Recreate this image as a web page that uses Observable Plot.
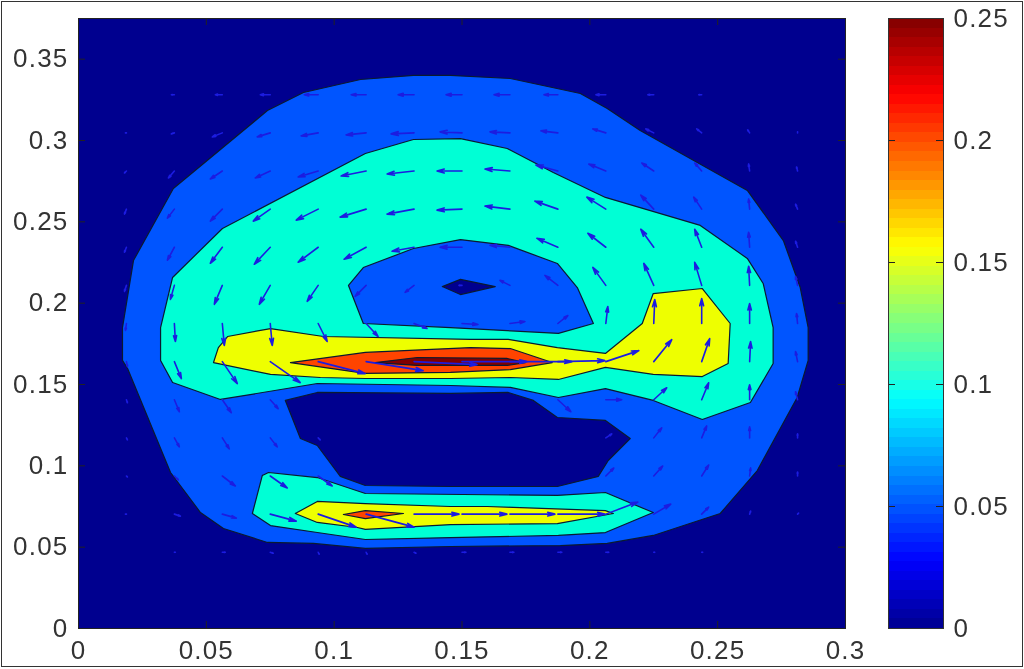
<!DOCTYPE html>
<html><head><meta charset="utf-8">
<script src="https://cdn.jsdelivr.net/npm/d3@7"></script>
<script src="https://cdn.jsdelivr.net/npm/@observablehq/plot@0.6"></script>
<style>
html,body{margin:0;padding:0;background:#fff;width:1024px;height:669px;overflow:hidden}
#page{position:relative;width:1024px;height:669px}
#page svg{position:absolute;top:0;left:0;background:transparent;filter:blur(0.5px)}
#page svg text{letter-spacing:1.2px}
#border{position:absolute;left:1px;top:1px;width:1020px;height:664px;border:1.5px solid #333;pointer-events:none}
</style></head><body>
<div id="page"><div id="border"></div></div>
<script>
const xTicks=[0,0.05,0.1,0.15,0.2,0.25,0.3];
const yTicks=[0,0.05,0.1,0.15,0.2,0.25,0.3,0.35];
const barTicks=[0,0.05,0.1,0.15,0.2,0.25];

const outerBand=[[.0172,.1850],[.0215,.2262],[.0371,.2705],[.0739,.3184],[.0880,.3295],[.1103,.3375],[.1310,.3400],[.1455,.3400],[.1689,.3381],[.1963,.3289],[.2068,.3197],[.2197,.3061],[.2616,.2693],[.2757,.2385],[.2823,.2096],[.2854,.1850],[.2854,.1648],[.2811,.1420],[.2655,.0971],[.2510,.0707],[.2248,.0572],[.2068,.0523],[.1885,.0510],[.1455,.0504],[.1122,.0492],[.0919,.0523],[.0739,.0529],[.0567,.0615],[.0477,.0713],[.0360,.0959],[.0192,.1598],[.0172,.1648]];
const lowerHole=[[.0809,.1402],[.0934,.1451],[.1455,.1445],[.1681,.1451],[.1779,.1402],[.1873,.1297],[.2061,.1279],[.2158,.1168],[.2072,.1033],[.2033,.0935],[.1873,.0873],[.1455,.0873],[.1122,.0879],[.1024,.0935],[.0934,.1125],[.0868,.1168]];
const upperCyan=[[.0321,.1850],[.0368,.2158],[.0563,.2459],[.1122,.2920],[.1310,.3006],[.1494,.3012],[.1677,.2951],[.1857,.2803],[.2061,.2650],[.2432,.2478],[.2616,.2275],[.2678,.2121],[.2717,.1850],[.2717,.1629],[.2628,.1389],[.2440,.1285],[.2248,.1402],[.2061,.1475],[.1877,.1420],[.1689,.1482],[.1455,.1494],[.0934,.1506],[.0555,.1408],[.0368,.1512],[.0321,.1648]];
const upperHole=[[.1056,.2109],[.1114,.2219],[.1310,.2336],[.1494,.2391],[.1681,.2355],[.1873,.2244],[.1951,.2096],[.2014,.1875],[.1877,.1814],[.1455,.1850],[.1114,.1875]];
const diamond=[[.1423,.2102],[.1494,.2146],[.1630,.2102],[.1494,.2053]];
const lowerCyan=[[.0719,.0941],[.0743,.0959],[.0934,.0928],[.1122,.0830],[.1873,.0818],[.2061,.0836],[.2248,.0713],[.2061,.0590],[.1877,.0572],[.1455,.0559],[.1122,.0547],[.0934,.0590],[.0751,.0633],[.0680,.0707]];
const lowerYellow=[[.0848,.0707],[.0934,.0781],[.1122,.0768],[.1455,.0750],[.1599,.0750],[.2061,.0725],[.2092,.0707],[.1873,.0645],[.1455,.0639],[.1122,.0609],[.1091,.0621],[.0934,.0652]];
const lowerRed=[[.1036,.0701],[.1122,.0725],[.1271,.0707],[.1122,.0676]];
const upperYellow=[[.0528,.1635],[.0547,.1727],[.0583,.1795],[.0751,.1844],[.0958,.1795],[.1533,.1777],[.1681,.1777],[.1873,.1727],[.2061,.1691],[.2205,.1875],[.2248,.2059],[.2440,.2090],[.2549,.1875],[.2541,.1629],[.2440,.1549],[.2248,.1562],[.2061,.1605],[.1877,.1531],[.1689,.1543],[.1455,.1537],[.1122,.1537],[.0946,.1543],[.0751,.1562]];
const upperRed=[[.0829,.1635],[.1122,.1697],[.1533,.1727],[.1689,.1721],[.1853,.1635],[.1689,.1592],[.1455,.1574],[.1122,.1568]];
const upperDark=[[.1161,.1635],[.1325,.1666],[.1677,.1660],[.1748,.1635],[.1677,.1617],[.1325,.1617]];

const gridX=[.01875,.0375,.05625,.075,.09375,.1125,.13125,.15,.16875,.1875,.20625,.225,.24375,.2625,.28125];
const gridY=[.328125,.3046875,.28125,.2578125,.234375,.2109375,.1875,.1640625,.140625,.1171875,.09375,.0703125,.046875];
const flowU=[
[0,-3,-7,-10,-14,-15,-16,-16,-16,-14,-10,-6,-3,0,0],
[-1,-3,-10,-13,-17,-20,-23,-22,-20,-17,-13,-8,-5,-2,0],
[-2,-6,-12,-15,-20,-25,-27,-25,-25,-22,-17,-12,-7,-1,-1],
[-2,-7,-12,-17,-22,-26,-27,-25,-25,-23,-19,-13,-8,-1,-2],
[-2,-7,-12,-16,-20,-22,-22,-22,-20,-21,-18,-13,-7,-1,-2],
[-2,-4,-8,-11,-11,-11,-9,-3,-10,-13,-13,-10,-7,-1,-2],
[-1,1,2,2,9,12,13,16,15,10,2,1,0,0,-1],
[1,7,15,30,47,57,63,65,62,47,33,18,8,1,-2],
[1,5,9,8,0,0,0,0,0,13,16,13,7,0,-2],
[1,5,7,7,2,0,0,0,0,0,6,8,5,0,0],
[1,4,13,17,14,0,0,0,0,0,8,9,7,1,0],
[-1,6,14,26,38,48,45,45,45,47,32,17,7,1,1],
[0,1,3,3,1,1,2,4,4,4,3,1,1,0,0]];
const flowV=[
[0,0,0,0,0,0,0,0,0,0,0,0,0,0,0],
[0,-1,-4,-4,-3,-2,-1,1,1,2,4,4,4,3,1],
[-2,-7,-8,-7,-6,-5,-3,0,2,6,7,8,8,7,4],
[-5,-9,-12,-12,-11,-8,-5,-1,3,8,12,14,12,10,5],
[-5,-13,-16,-17,-15,-12,-4,0,2,9,14,18,18,15,6],
[-6,-14,-19,-19,-16,-11,-7,0,5,10,18,22,23,19,9],
[-7,-18,-22,-22,-18,-13,-5,-1,2,8,17,24,25,20,10],
[-5,-17,-22,-21,-12,-9,-3,0,0,1,11,22,23,20,10],
[-3,-12,-13,-9,0,0,0,0,0,-12,0,12,17,15,8],
[-2,-9,-11,-9,-2,0,0,0,0,0,4,10,12,11,4],
[-1,-4,-10,-12,-10,0,0,0,0,0,8,10,11,8,4],
[0,-2,-4,-7,-13,-13,0,0,0,0,12,10,7,3,1],
[0,0,0,-1,-2,-2,-1,0,0,0,0,0,0,0,0]];
const quiverScaleX=0.000391, quiverScaleY=0.000615;

const bandColors={low:"#00008f",blue:"#0055ff",cyan:"#00ffd5",yellow:"#eeff00",red:"#ff4400",dark:"#800000"};
const jetStops=[0,0.0275,0.09375,0.15625,0.21875,0.25];
const jetColors=["#00008f","#0000ff","#00ffff","#ffff00","#ff0000","#800000"];
const barLevels=d3.range(64);

const arrows=gridY.flatMap((y,r)=>gridX.map((x,c)=>({x,y,u:flowU[r][c],v:flowV[r][c]}))).filter(d=>d.u||d.v);
const fontFamily="'Liberation Sans',Arial,sans-serif";
const plotH=610, tickLen=7, mainW=767, barW=55;

function band(points,fill){
  return Plot.line([...points,points[0]],{x:d=>d[0],y:d=>d[1],fill,stroke:"#0a1a30",strokeWidth:1.2,curve:"linear"});
}
function ticks(xs,ys,w){
  const s={stroke:"#222",strokeWidth:1};
  return [
    xs?Plot.tickX(xs,{x:d=>d,insetTop:plotH-tickLen,...s}):null,
    xs?Plot.tickX(xs,{x:d=>d,insetBottom:plotH-tickLen,...s}):null,
    Plot.tickY(ys,{y:d=>d,insetRight:w-tickLen,...s}),
    Plot.tickY(ys,{y:d=>d,insetLeft:w-tickLen,...s})
  ];
}

const main=Plot.plot({
  width:1024,height:669,marginLeft:78,marginRight:179,marginTop:18,marginBottom:41,
  style:{fontFamily,background:"transparent"},
  x:{domain:[0,0.3],axis:null},y:{domain:[0,0.375],axis:null},
  marks:[
    Plot.rect([0],{x1:0,x2:0.3,y1:0,y2:0.375,fill:bandColors.low}),
    band(outerBand,bandColors.blue),
    band(lowerHole,bandColors.low),
    band(upperCyan,bandColors.cyan),
    band(upperHole,bandColors.blue),
    band(diamond,bandColors.low),
    band(lowerCyan,bandColors.cyan),
    band(lowerYellow,bandColors.yellow),
    band(lowerRed,bandColors.red),
    band(upperYellow,bandColors.yellow),
    band(upperRed,bandColors.red),
    band(upperDark,bandColors.dark),
    Plot.arrow(arrows,{x1:"x",y1:"y",x2:d=>d.x+d.u*quiverScaleX,y2:d=>d.y+d.v*quiverScaleY,stroke:"#1c1ce0",strokeWidth:1.6,headLength:7,headAngle:30}),
    ...ticks(xTicks,yTicks,mainW),
    Plot.text(xTicks,{x:d=>d,frameAnchor:"bottom",dy:30,lineAnchor:"bottom",text:d=>String(d),fontSize:26,fill:"#333"}),
    Plot.text(yTicks,{y:d=>d,frameAnchor:"left",dx:-10,textAnchor:"end",text:d=>String(d),fontSize:26,fill:"#333"}),
    Plot.frame({stroke:"#222",strokeWidth:1})
  ]
});
const bar=Plot.plot({
  width:1024,height:669,marginLeft:888,marginRight:81,marginTop:18,marginBottom:41,
  style:{fontFamily,background:"transparent"},
  x:{domain:[0,1],axis:null},y:{domain:[0,0.25],axis:null},
  color:{type:"linear",domain:jetStops,range:jetColors,interpolate:"rgb"},
  marks:[
    Plot.rect(barLevels,{x1:0,x2:1,y1:d=>d/64*0.25,y2:d=>(d+1)/64*0.25,fill:d=>(d+0.5)/64*0.25,shapeRendering:"crispEdges"}),
    ...ticks(null,barTicks,barW),
    Plot.text(barTicks,{y:d=>d,frameAnchor:"right",dx:10,textAnchor:"start",text:d=>String(d),fontSize:26,fill:"#333"}),
    Plot.frame({stroke:"#333",strokeWidth:1})
  ]
});
document.getElementById("page").append(main,bar);
</script>
</body></html>
